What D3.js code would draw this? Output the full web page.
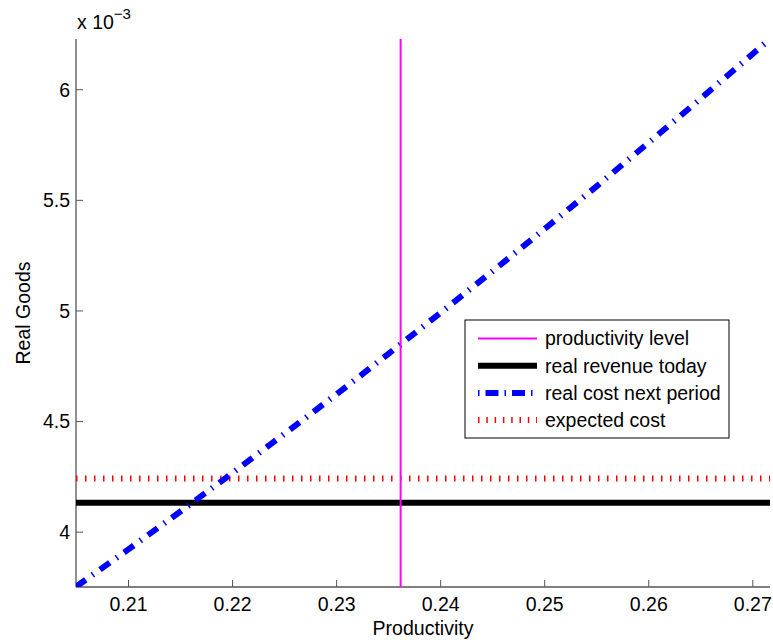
<!DOCTYPE html>
<html>
<head>
<meta charset="utf-8">
<script src="https://cdn.jsdelivr.net/npm/d3@7"></script>
<style>
  body { margin: 0; background: #fff; }
  text { font-family: "Liberation Sans", Arial, sans-serif; }
</style>
</head>
<body>
<svg id="chart"></svg>
<script>
// Values are in units of 10^-3 (as the y axis shows)
const productivity = [0.205, 0.21, 0.215, 0.22, 0.225, 0.23, 0.235, 0.24, 0.245, 0.25, 0.255, 0.26, 0.265, 0.27, 0.2717];
const costNext = [3.751, 3.919, 4.090, 4.264, 4.441, 4.620, 4.803, 4.988, 5.176, 5.367, 5.560, 5.757, 5.956, 6.158, 6.227];
const productivityLevel = 0.2362;
const revenueToday = 4.131;
const expectedCost = 4.240;
const xTicks = [0.21, 0.22, 0.23, 0.24, 0.25, 0.26, 0.27];
const yTicks = [4, 4.5, 5, 5.5, 6];
const legendLabels = ['productivity level', 'real revenue today', 'real cost next period', 'expected cost'];

const width = 773;
const height = 643;
const margin = { top: 39, right: 3, bottom: 56, left: 76 };

const svg = d3.select('#chart')
    .attr('width', width)
    .attr('height', height);

// Scales
const xScale = d3.scaleLinear()
    .domain([0.205, 0.2717])
    .range([margin.left, width - margin.right]);

const yScale = d3.scaleLinear()
    .domain([3.75, 6.227])
    .range([height - margin.bottom, margin.top]);

const axisColor = '#555';

svg.append('clipPath').attr('id', 'plot-clip')
    .append('rect')
    .attr('x', margin.left)
    .attr('y', margin.top)
    .attr('width', width - margin.right - margin.left)
    .attr('height', height - margin.bottom - margin.top);

// Axes (ticks pointing inward, like MATLAB)
const xAxis = d3.axisTop(xScale).tickValues(xTicks).tickSize(7).tickFormat(d3.format('.2f'));
const yAxis = d3.axisRight(yScale).tickValues(yTicks).tickSize(7).tickFormat(d => d);

const gx = svg.append('g')
    .attr('transform', `translate(0, ${height - margin.bottom})`)
    .call(xAxis);
gx.select('.domain').attr('stroke', axisColor).attr('stroke-width', 1.3);
gx.selectAll('.tick line').attr('stroke', axisColor);
gx.selectAll('.tick text')
    .attr('y', 24)
    .attr('dy', 0)
    .attr('fill', '#000')
    .attr('font-size', '19.5px');

const gy = svg.append('g')
    .attr('transform', `translate(${margin.left}, 0)`)
    .call(yAxis);
gy.select('.domain').attr('stroke', axisColor).attr('stroke-width', 1.3);
gy.selectAll('.tick line').attr('stroke', axisColor);
gy.selectAll('.tick text')
    .attr('x', -6)
    .attr('dy', '0.35em')
    .attr('text-anchor', 'end')
    .attr('fill', '#000')
    .attr('font-size', '19.5px');

// Remove the domain end caps drawn by d3 (outer ticks)
gx.select('.domain').attr('d', `M${margin.left},0H${width - margin.right}`);
gy.select('.domain').attr('d', `M0,${margin.top}V${height - margin.bottom}`);

// Axis labels
svg.append('text')
    .attr('x', (margin.left + width - margin.right) / 2)
    .attr('y', 635)
    .attr('text-anchor', 'middle')
    .attr('font-size', '19.5px')
    .text('Productivity');

svg.append('text')
    .attr('transform', 'rotate(-90)')
    .attr('x', -313)
    .attr('y', 30)
    .attr('text-anchor', 'middle')
    .attr('font-size', '19.5px')
    .text('Real Goods');

// Exponent label
const expo = svg.append('text')
    .attr('x', 77)
    .attr('y', 29)
    .attr('font-size', '19.5px');
expo.append('tspan').text('x 10');
expo.append('tspan').attr('dy', -10).attr('font-size', '15px').text('\u22123');

const plot = svg.append('g').attr('clip-path', 'url(#plot-clip)');

// Expected cost (dotted red)
plot.append('line')
    .attr('x1', xScale(0.205)).attr('x2', xScale(0.2717))
    .attr('y1', yScale(expectedCost)).attr('y2', yScale(expectedCost))
    .attr('stroke', '#ff0000')
    .attr('stroke-width', 6)
    .attr('stroke-dasharray', '1.5 7.5');

// Real revenue today (thick black)
plot.append('line')
    .attr('x1', xScale(0.205)).attr('x2', xScale(0.2717))
    .attr('y1', yScale(revenueToday)).attr('y2', yScale(revenueToday))
    .attr('stroke', '#000')
    .attr('stroke-width', 6);

// Real cost next period (dash-dot blue)
const line = d3.line()
    .x((d, i) => xScale(productivity[i]))
    .y(d => yScale(d));

plot.append('path')
    .datum(costNext)
    .attr('fill', 'none')
    .attr('stroke', '#0000ff')
    .attr('stroke-width', 6)
    .attr('stroke-dasharray', '12 8 1.5 8')
    .attr('d', line);

// Productivity level (magenta vertical)
plot.append('line')
    .attr('x1', xScale(productivityLevel)).attr('x2', xScale(productivityLevel))
    .attr('y1', yScale(6.227)).attr('y2', yScale(3.75))
    .attr('stroke', '#ff00ff')
    .attr('stroke-width', 2);

// Legend
const legend = svg.append('g').attr('transform', 'translate(465, 320)');
legend.append('rect')
    .attr('width', 264)
    .attr('height', 118)
    .attr('fill', '#fff')
    .attr('stroke', '#000')
    .attr('stroke-width', 1);

const legendStyles = [
    { color: '#ff00ff', w: 2, dash: null },
    { color: '#000', w: 6, dash: null },
    { color: '#0000ff', w: 6, dash: '1.5 6 13 6' },
    { color: '#ff0000', w: 6, dash: '1.5 6.8' }
];

legendLabels.forEach((label, i) => {
    let yy = 18.5 + i * 27.2;
    let s = legendStyles[i];
    let l = legend.append('line')
        .attr('x1', 13).attr('x2', 72)
        .attr('y1', yy).attr('y2', yy)
        .attr('stroke', s.color)
        .attr('stroke-width', s.w);
    if (s.dash) l.attr('stroke-dasharray', s.dash);
    legend.append('text')
        .attr('x', 80)
        .attr('y', yy)
        .attr('dy', '0.35em')
        .attr('font-size', '19.5px')
        .text(label);
});
</script>
</body>
</html>
